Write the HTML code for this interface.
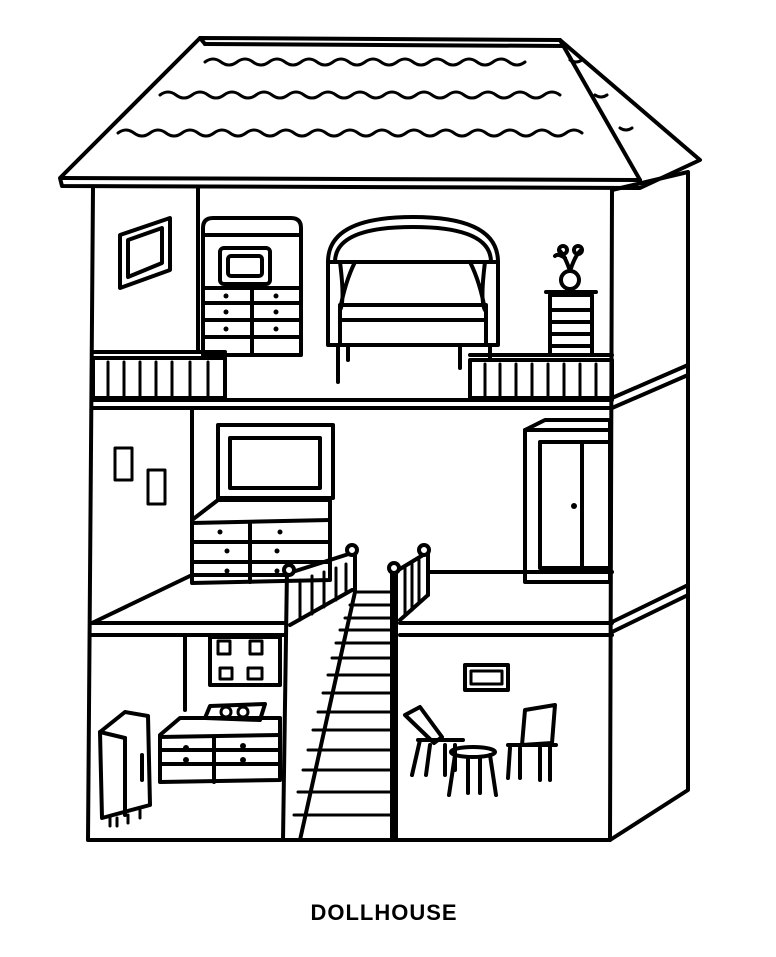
<!DOCTYPE html>
<html><head><style>body{margin:0;background:#fff}svg{display:block}</style></head><body>
<svg width="776" height="957" viewBox="0 0 776 957" xmlns="http://www.w3.org/2000/svg" fill="none" stroke="#000" stroke-width="4" stroke-linejoin="round" stroke-linecap="round">
<!-- roof -->
<polygon points="200,38 560,40 700,160 640,188 62,186 60,178" fill="#fff"/>
<line x1="62" y1="178" x2="640" y2="180"/>
<line x1="560" y1="40" x2="640" y2="180"/>
<line x1="200" y1="38" x2="205" y2="44"/><line x1="205" y1="44" x2="565" y2="46"/>
<g stroke-width="3">
<path d="M205,62 q8,-6 16,0 q8,6 16,0 q8,-6 16,0 q8,6 16,0 q8,-6 16,0 q8,6 16,0 q8,-6 16,0 q8,6 16,0 q8,-6 16,0 q8,6 16,0 q8,-6 16,0 q8,6 16,0 q8,-6 16,0 q8,6 16,0 q8,-6 16,0 q8,6 16,0 q8,-6 16,0 q8,6 16,0 q8,-6 16,0 q8,6 16,0"/>
<path d="M160,95 q8,-6 16,0 q8,6 16,0 q8,-6 16,0 q8,6 16,0 q8,-6 16,0 q8,6 16,0 q8,-6 16,0 q8,6 16,0 q8,-6 16,0 q8,6 16,0 q8,-6 16,0 q8,6 16,0 q8,-6 16,0 q8,6 16,0 q8,-6 16,0 q8,6 16,0 q8,-6 16,0 q8,6 16,0 q8,-6 16,0 q8,6 16,0 q8,-6 16,0 q8,6 16,0 q8,-6 16,0 q8,6 16,0 q8,-6 16,0"/>
<path d="M118,133 q8,-6 16,0 q8,6 16,0 q8,-6 16,0 q8,6 16,0 q8,-6 16,0 q8,6 16,0 q8,-6 16,0 q8,6 16,0 q8,-6 16,0 q8,6 16,0 q8,-6 16,0 q8,6 16,0 q8,-6 16,0 q8,6 16,0 q8,-6 16,0 q8,6 16,0 q8,-6 16,0 q8,6 16,0 q8,-6 16,0 q8,6 16,0 q8,-6 16,0 q8,6 16,0 q8,-6 16,0 q8,6 16,0 q8,-6 16,0 q8,6 16,0 q8,-6 16,0 q8,6 16,0 q8,-6 16,0"/>
<path d="M570,60 q6,4 12,0 M595,95 q6,4 12,0 M620,128 q6,4 12,0"/>
</g>
<!-- house body -->
<polyline points="93,188 88,840 610,840 612,190"/>
<polyline points="612,190 688,172 688,790 610,840"/>
<!-- right side floor lines -->
<line x1="612" y1="398" x2="688" y2="365"/><line x1="612" y1="408" x2="688" y2="375"/>
<line x1="612" y1="622" x2="688" y2="585"/><line x1="612" y1="632" x2="688" y2="595"/>
<!-- upper floor -->
<line x1="198" y1="188" x2="198" y2="352"/>
<line x1="93" y1="400" x2="612" y2="400"/><line x1="93" y1="408" x2="612" y2="408"/>
<line x1="93" y1="352" x2="225" y2="352"/><line x1="470" y1="355" x2="612" y2="355"/>
<rect x="93" y="358" width="132" height="40"/><rect x="470" y="360" width="142" height="38"/>
<g stroke-width="3">
<path d="M108,362v36M124,362v36M140,362v36M156,362v36M172,362v36M190,362v36M208,362v36M485,364v34M500,364v34M516,364v34M532,364v34M548,364v34M564,364v34M580,364v34M596,364v34"/>
</g>
<!-- frame -->
<polygon points="120,235 170,218 170,270 120,288"/><polygon points="128,240 162,228 162,263 128,277"/>
<!-- cabinet/tv top -->
<path d="M203,355 V228 q0,-10 10,-10 h78 q10,0 10,10 V355 z"/>
<line x1="203" y1="235" x2="301" y2="235"/><line x1="203" y1="288" x2="301" y2="288"/>
<rect x="220" y="248" width="50" height="36" rx="4"/><rect x="228" y="256" width="34" height="20" rx="3"/>
<line x1="203" y1="303" x2="301" y2="303"/><line x1="203" y1="320" x2="301" y2="320"/><line x1="203" y1="337" x2="301" y2="337"/><line x1="252" y1="288" x2="252" y2="355"/>
<g fill="#000" stroke="none"><circle cx="226" cy="296" r="2.5"/><circle cx="276" cy="296" r="2.5"/><circle cx="226" cy="312" r="2.5"/><circle cx="276" cy="312" r="2.5"/><circle cx="226" cy="329" r="2.5"/><circle cx="276" cy="329" r="2.5"/></g>
<!-- canopy bed -->
<path d="M328,345 V262 q0,-45 85,-45 q85,0 85,45 V345 z"/>
<path d="M335,262 q0,-35 78,-35 q78,0 78,35"/>
<line x1="328" y1="262" x2="498" y2="262"/>
<path d="M340,262 q5,40 0,48 M485,262 q-5,40 0,48 M355,262 q-10,20 -15,48 M470,262 q10,20 15,48"/>
<rect x="340" y="305" width="146" height="40"/><line x1="340" y1="320" x2="486" y2="320"/>
<line x1="338" y1="345" x2="338" y2="382"/><line x1="348" y1="345" x2="348" y2="360"/><line x1="460" y1="345" x2="460" y2="368"/><line x1="490" y1="345" x2="490" y2="360"/>
<!-- plant stand -->
<rect x="550" y="295" width="42" height="60"/><line x1="546" y1="292" x2="596" y2="292"/>
<path d="M552,310h38M552,322h38M552,334h38M552,346h38"/>
<circle cx="570" cy="280" r="9"/><path d="M570,271 q-5,-15 -10,-20 M570,271 q5,-15 10,-20 M565,258 q-7,-5 -10,-2"/><circle cx="563" cy="250" r="4"/><circle cx="578" cy="250" r="4"/>
<!-- middle floor -->
<line x1="192" y1="408" x2="192" y2="575"/>
<rect x="115" y="448" width="17" height="32" stroke-width="3"/><rect x="148" y="470" width="17" height="34" stroke-width="3"/>
<rect x="218" y="425" width="115" height="73"/><rect x="230" y="438" width="90" height="50"/>
<polygon points="218,500 330,500 330,580 192,583 192,520"/>
<line x1="192" y1="523" x2="330" y2="520"/>
<path d="M192,542h138M192,562h138M250,522v60"/>
<g fill="#000" stroke="none"><circle cx="220" cy="532" r="2.5"/><circle cx="280" cy="532" r="2.5"/><circle cx="227" cy="551" r="2.5"/><circle cx="277" cy="551" r="2.5"/><circle cx="227" cy="571" r="2.5"/><circle cx="277" cy="571" r="2.5"/><circle cx="574" cy="506" r="3"/></g>
<!-- wardrobe -->
<polygon points="525,430 545,420 610,420 610,582 525,582"/>
<line x1="525" y1="430" x2="610" y2="430"/><rect x="540" y="442" width="70" height="126"/><line x1="582" y1="442" x2="582" y2="568"/>
<!-- slab -->
<line x1="92" y1="623" x2="192" y2="575"/><line x1="192" y1="575" x2="285" y2="575"/>
<line x1="430" y1="572" x2="612" y2="572"/>
<line x1="92" y1="623" x2="285" y2="623"/><line x1="92" y1="635" x2="285" y2="635"/>
<line x1="400" y1="623" x2="612" y2="623"/><line x1="400" y1="635" x2="612" y2="635"/>
<!-- stairs -->
<line x1="287" y1="570" x2="283" y2="840"/><line x1="392" y1="570" x2="392" y2="840"/><line x1="396" y1="570" x2="396" y2="840"/>
<path d="M355,592 L300,840"/>
<g stroke-width="3"><path d="M355,592h35M350,605h40M345,618h45M340,630h50M336,643h54M332,658h58M328,675h62M323,693h67M318,712h72M313,730h77M308,750h82M303,770h87M298,792h92M294,815h96"/></g>
<polyline points="283,575 355,552 355,592"/><line x1="290" y1="625" x2="352" y2="590"/>
<g stroke-width="3"><path d="M300,580v40M312,576v38M324,572v35M336,568v32M346,564v28"/></g>
<circle cx="289" cy="570" r="5" fill="#fff"/><circle cx="352" cy="550" r="5" fill="#fff"/>
<polyline points="395,572 428,552 428,595"/><line x1="400" y1="620" x2="428" y2="595"/>
<g stroke-width="3"><path d="M405,568v48M412,564v46M419,560v42"/></g>
<circle cx="394" cy="568" r="5" fill="#fff"/><circle cx="424" cy="550" r="5" fill="#fff"/>
<!-- ground left -->
<line x1="185" y1="635" x2="185" y2="710"/>
<rect x="210" y="637" width="70" height="48"/>
<rect x="218" y="641" width="12" height="13" stroke-width="3"/><rect x="250" y="641" width="12" height="13" stroke-width="3"/><rect x="220" y="668" width="12" height="11" stroke-width="3"/><rect x="248" y="668" width="14" height="11" stroke-width="3"/>
<polygon points="160,735 180,718 280,718 280,780 160,782"/><line x1="160" y1="737" x2="280" y2="735"/>
<path d="M160,750h120M160,764h120M214,737v45"/>
<polygon points="205,718 210,706 265,704 260,720"/><circle cx="226" cy="712" r="5" stroke-width="3"/><circle cx="243" cy="712" r="5" stroke-width="3"/>
<g fill="#000" stroke="none"><circle cx="186" cy="748" r="3"/><circle cx="243" cy="746" r="3"/><circle cx="186" cy="760" r="3"/><circle cx="243" cy="760" r="3"/></g>
<polygon points="100,732 125,712 148,716 150,805 102,818"/><line x1="100" y1="732" x2="125" y2="738"/><line x1="125" y1="738" x2="125" y2="815"/><line x1="142" y1="755" x2="142" y2="780"/>
<path d="M110,818v8M117,818v8M128,815v8M140,810v8" stroke-width="3"/>
<!-- ground right -->
<rect x="465" y="665" width="43" height="25"/><rect x="471" y="671" width="31" height="13" stroke-width="3"/>
<path d="M405,715 l15,-8 l22,30 l-8,6 z M418,740 h45 M420,740 l-8,35 M430,745 l-4,30 M455,745 v25 M445,745 v30"/>
<ellipse cx="473" cy="752" rx="22" ry="5"/><path d="M455,755 l-6,40 M490,755 l6,40 M468,758 v35 M480,758 v35"/>
<path d="M525,710 l30,-5 l-3,38 l-30,2 z M508,745 h48 M510,748 l-2,30 M520,748 v30 M550,745 v35 M540,748 v32"/>
<text x="384" y="920" font-family="Liberation Sans, sans-serif" font-weight="bold" font-size="22" fill="#000" stroke="none" text-anchor="middle" letter-spacing="1">DOLLHOUSE</text>
</svg>
</body></html>
